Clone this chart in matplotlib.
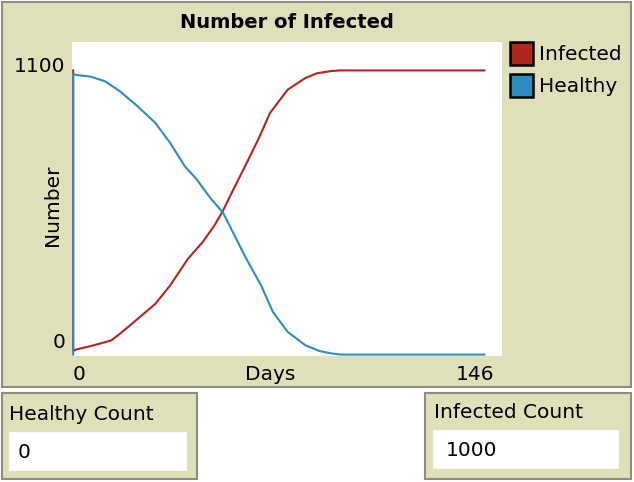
import matplotlib
matplotlib.use("Agg")
import matplotlib.pyplot as plt
from matplotlib.patches import Rectangle

# dados
dias_infectados = [0, 0, 1, 6, 13, 16, 22, 28, 33, 39, 44, 48, 51, 54, 58, 63, 67, 73, 79, 83, 88, 91, 140]
infectados = [1000, 12, 18, 30, 50, 74, 126, 179, 243, 336, 395, 453, 506, 570, 652, 757, 850, 932, 973, 990, 998, 1000, 1000]

dias_saudaveis = [0, 0, 1, 6, 11, 16, 22, 28, 33, 38, 42, 47, 51, 55, 59, 64, 68, 73, 79, 84, 88, 91, 140]
saudaveis = [0, 988, 984, 978, 961, 926, 873, 815, 745, 663, 617, 547, 500, 418, 336, 243, 150, 80, 33, 12, 4, 0, 0]

x_max = 146
y_max = 1100
healthy_count = "0"
infected_count = "1000"

W, H = 634, 482
FUNDO = "#DFDFB9"
BORDA = "#8E8E80"
VERMELHO = "#B2261F"
AZUL = "#2E8CC1"
FS = 14.5


def fx(x):
    return x / W


def fy(y):
    return 1 - y / H


def caixa(fig, x0, y0, x1, y1, cor, borda=BORDA, lw=1.5, z=-2):
    fig.patches.append(Rectangle((fx(x0), fy(y1)), fx(x1) - fx(x0), fy(y0) - fy(y1),
                                 transform=fig.transFigure, facecolor=cor,
                                 edgecolor=borda, linewidth=lw, zorder=z))


def texto(fig, x, y, s, **kw):
    kw.setdefault("fontsize", FS)
    fig.text(fx(x), fy(y), s, **kw)


fig = plt.figure(figsize=(W / 100, H / 100), dpi=100)
fig.patch.set_facecolor("white")

# widget do grafico
caixa(fig, 2, 2, 631, 387, FUNDO)

ax = fig.add_axes([fx(72), fy(356), fx(502) - fx(72), fy(42) - fy(356)])
ax.set_zorder(1)
ax.set_facecolor("white")
ax.plot(dias_infectados, infectados, color=VERMELHO, lw=1.5)
ax.plot(dias_saudaveis, saudaveis, color=AZUL, lw=1.5)
ax.set_xlim(-0.4, x_max)
ax.set_ylim(-5, y_max)
ax.set_xticks([])
ax.set_yticks([])
for s in ax.spines.values():
    s.set_visible(False)

texto(fig, 287, 22, "Number of Infected", ha="center", va="center", fontweight="bold", fontsize=14)
texto(fig, 65, 72, str(y_max), ha="right", va="baseline")
texto(fig, 65, 348, "0", ha="right", va="baseline")
texto(fig, 79, 380, "0", ha="center", va="baseline")
texto(fig, 475, 380, str(x_max), ha="center", va="baseline")
texto(fig, 270, 380, "Days", ha="center", va="baseline")
texto(fig, 52, 205, "Number", ha="center", va="center", rotation=90)

# legenda
for (nome, cor, y0) in [("Infected", VERMELHO, 42), ("Healthy", AZUL, 74)]:
    caixa(fig, 510, y0, 533, y0 + 23, cor, borda="black", lw=1.8, z=-1)
    texto(fig, 539, y0 + 12, nome, ha="left", va="center")

# monitores
caixa(fig, 2, 393, 197, 479, FUNDO)
caixa(fig, 9, 432, 186, 470, "white", borda="white", lw=0.5, z=-1)
texto(fig, 9, 414, "Healthy Count", ha="left", va="center")
texto(fig, 18, 452, healthy_count, ha="left", va="center")

caixa(fig, 425, 393, 631, 479, FUNDO)
caixa(fig, 433, 430, 618, 468, "white", borda="white", lw=0.5, z=-1)
texto(fig, 434, 413, "Infected Count", ha="left", va="center")
texto(fig, 446, 450, infected_count, ha="left", va="center")

fig.savefig("out.png", dpi=100)
plt.close(fig)
